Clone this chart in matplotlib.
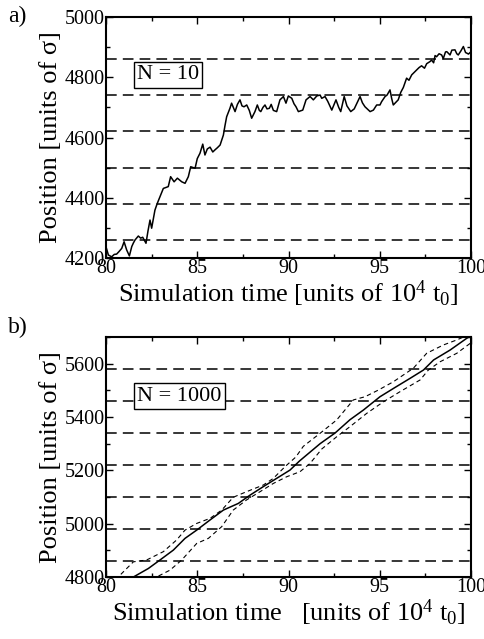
import matplotlib
matplotlib.use("Agg")
import matplotlib.pyplot as plt
from matplotlib.ticker import MultipleLocator

plt.rcParams['font.family'] = ['Liberation Serif', 'DejaVu Serif']
plt.rcParams['mathtext.fontset'] = 'custom'
plt.rcParams['mathtext.rm'] = 'Liberation Serif'
plt.rcParams['mathtext.it'] = 'Liberation Serif:italic'

# panel a) single trajectory, N = 10
t_a = [80.00, 80.13, 80.31, 80.45, 80.58, 80.72, 80.86, 80.99, 81.13, 81.28,
       81.41, 81.50, 81.59, 81.77, 81.90, 82.01, 82.19, 82.30, 82.41, 82.50,
       82.68, 82.80, 82.96, 83.14, 83.41, 83.54, 83.73, 83.91, 84.15, 84.33,
       84.51, 84.64, 84.88, 85.00, 85.15, 85.30, 85.42, 85.55, 85.70, 85.85,
       85.97, 86.10, 86.25, 86.43, 86.52, 86.61, 86.79, 86.88, 87.07, 87.20,
       87.34, 87.45, 87.56, 87.71, 87.85, 87.98, 88.16, 88.29, 88.40, 88.48,
       88.60, 88.71, 88.82, 88.95, 89.05, 89.17, 89.35, 89.53, 89.72, 89.86,
       89.99, 90.18, 90.30, 90.41, 90.54, 90.78, 90.96, 91.18, 91.36, 91.55,
       91.73, 91.82, 92.00, 92.15, 92.37, 92.60, 92.75, 92.86, 93.05, 93.20,
       93.41, 93.60, 93.92, 94.05, 94.19, 94.47, 94.65, 94.83, 95.01, 95.10,
       95.29, 95.40, 95.56, 95.65, 95.74, 96.01, 96.15, 96.29, 96.47, 96.60,
       96.75, 96.93, 97.02, 97.15, 97.29, 97.45, 97.57, 97.75, 97.84, 97.95,
       98.03, 98.11, 98.25, 98.39, 98.48, 98.60, 98.67, 98.85, 98.95, 99.12,
       99.22, 99.30, 99.45, 99.58, 99.70, 99.77, 99.86, 100.00]
pos_a = [4237, 4210, 4204, 4212, 4213, 4222, 4232, 4254, 4227, 4207,
         4238, 4250, 4260, 4273, 4266, 4269, 4249, 4290, 4326, 4299,
         4359, 4380, 4404, 4431, 4437, 4470, 4453, 4465, 4453, 4448,
         4470, 4503, 4498, 4530, 4548, 4578, 4542, 4562, 4568, 4552,
         4559, 4566, 4575, 4608, 4640, 4669, 4697, 4714, 4686, 4710,
         4725, 4705, 4702, 4708, 4690, 4664, 4686, 4708, 4690, 4686,
         4700, 4708, 4695, 4697, 4710, 4690, 4686, 4725, 4736, 4714,
         4738, 4730, 4712, 4702, 4686, 4691, 4725, 4736, 4725, 4738,
         4741, 4730, 4736, 4720, 4691, 4725, 4700, 4686, 4736, 4705,
         4686, 4695, 4736, 4715, 4702, 4686, 4691, 4708, 4708, 4719,
         4736, 4741, 4758, 4730, 4708, 4725, 4750, 4766, 4797, 4790,
         4808, 4819, 4824, 4832, 4838, 4830, 4845, 4852, 4857, 4848,
         4872, 4868, 4878, 4874, 4862, 4884, 4885, 4874, 4890, 4891,
         4878, 4874, 4888, 4902, 4882, 4880, 4877, 4885]
levels_a = [4260, 4380, 4500, 4620, 4740, 4860]

# panel b) mean trajectory, N = 1000, with upper / lower spread
t_b = [81.30, 81.50, 82.32, 82.96, 83.69, 84.33, 84.97, 85.70, 86.43, 87.25,
       87.89, 88.62, 89.35, 90.08, 90.60, 91.73, 92.55, 93.37, 94.10, 95.01,
       95.84, 96.66, 97.39, 97.95, 98.85, 99.76, 100.00]
mean_b = [4790, 4800, 4832, 4864, 4901, 4945, 4976, 5014, 5051, 5076,
          5107, 5139, 5170, 5201, 5235, 5300, 5340, 5390, 5426, 5476,
          5511, 5545, 5576, 5614, 5651, 5695, 5705]
t_up = [80.50, 80.68, 81.50, 82.23, 83.14, 83.87, 84.33, 84.97, 85.70, 86.34,
        86.97, 87.70, 88.62, 89.17, 89.81, 90.40, 90.81, 91.73, 92.64, 93.55,
        94.19, 94.92, 95.74, 96.84, 97.57, 98.48, 99.22, 99.62, 100.00]
pos_up = [4790, 4801, 4857, 4864, 4895, 4939, 4976, 5001, 5020, 5051,
          5099, 5120, 5145, 5170, 5214, 5250, 5290, 5339, 5389, 5464,
          5476, 5501, 5532, 5583, 5639, 5670, 5689, 5701, 5720]
t_lo = [82.50, 82.77, 83.51, 84.15, 84.97, 85.61, 86.34, 86.97, 87.70, 88.44,
        89.17, 89.90, 90.63, 91.18, 91.82, 92.64, 93.37, 94.29, 95.20, 96.11,
        97.21, 97.66, 98.30, 99.22, 99.95, 100.00]
pos_lo = [4790, 4800, 4826, 4864, 4926, 4945, 4989, 5051, 5089, 5120,
          5151, 5176, 5195, 5226, 5280, 5326, 5364, 5414, 5457, 5495,
          5539, 5576, 5607, 5639, 5676, 5678]
levels_b = [4860, 4980, 5100, 5220, 5340, 5460, 5580]

xlabel_a = 'Simulation time [units of 10$^{4}$ t$_{0}$]'
xlabel_b = 'Simulation time   [units of 10$^{4}$ t$_{0}$]'
ylabel = 'Position [units of σ]'

fig = plt.figure(figsize=(4.85, 6.39), dpi=100)
ax_a = fig.add_axes([0.2186, 0.5962, 0.7526, 0.3772])
ax_b = fig.add_axes([0.2186, 0.0970, 0.7526, 0.3756])


def style_axes(ax, ylo, yhi):
    ax.set_xlim(80, 100)
    ax.set_ylim(ylo, yhi)
    ax.xaxis.set_major_locator(MultipleLocator(5))
    ax.xaxis.set_minor_locator(MultipleLocator(2.5))
    ax.yaxis.set_major_locator(MultipleLocator(200))
    ax.yaxis.set_minor_locator(MultipleLocator(100))
    ax.tick_params(which='both', direction='in', top=True, right=True,
                   labelsize=14.5, width=1.0, pad=1)
    ax.tick_params(which='major', length=5)
    ax.tick_params(which='minor', length=3)
    for sp in ax.spines.values():
        sp.set_linewidth(1.5)


style_axes(ax_a, 4200, 5000)
for lv in levels_a:
    ax_a.axhline(lv, color='black', lw=1.1, dashes=(7, 4))
ax_a.plot(t_a, pos_a, color='black', lw=1.1)
ax_a.set_xlabel(xlabel_a, fontsize=19, labelpad=0)
ax_a.set_ylabel(ylabel, fontsize=19, labelpad=2)
ax_a.text(0.17, 0.76, 'N = 10', transform=ax_a.transAxes, fontsize=16,
          ha='center', va='center',
          bbox=dict(boxstyle='square,pad=0.15', fc='white', ec='black', lw=1))

style_axes(ax_b, 4800, 5700)
for lv in levels_b:
    ax_b.axhline(lv, color='black', lw=1.1, dashes=(7, 4))
ax_b.plot(t_b, mean_b, color='black', lw=1.1)
ax_b.plot(t_up, pos_up, color='black', lw=0.8, dashes=(4, 3))
ax_b.plot(t_lo, pos_lo, color='black', lw=0.8, dashes=(4, 3))
ax_b.set_xlabel(xlabel_b, fontsize=19, labelpad=0)
ax_b.set_ylabel(ylabel, fontsize=19, labelpad=2)
ax_b.text(0.2, 0.754, 'N = 1000', transform=ax_b.transAxes, fontsize=16,
          ha='center', va='center', zorder=5,
          bbox=dict(boxstyle='square,pad=0.15', fc='white', ec='black', lw=1))

fig.text(8 / 485, 1 - 22 / 639, 'a)', fontsize=17, ha='left', va='baseline')
fig.text(8 / 485, 1 - 333 / 639, 'b)', fontsize=17, ha='left', va='baseline')

fig.savefig('out.png', dpi=100)
